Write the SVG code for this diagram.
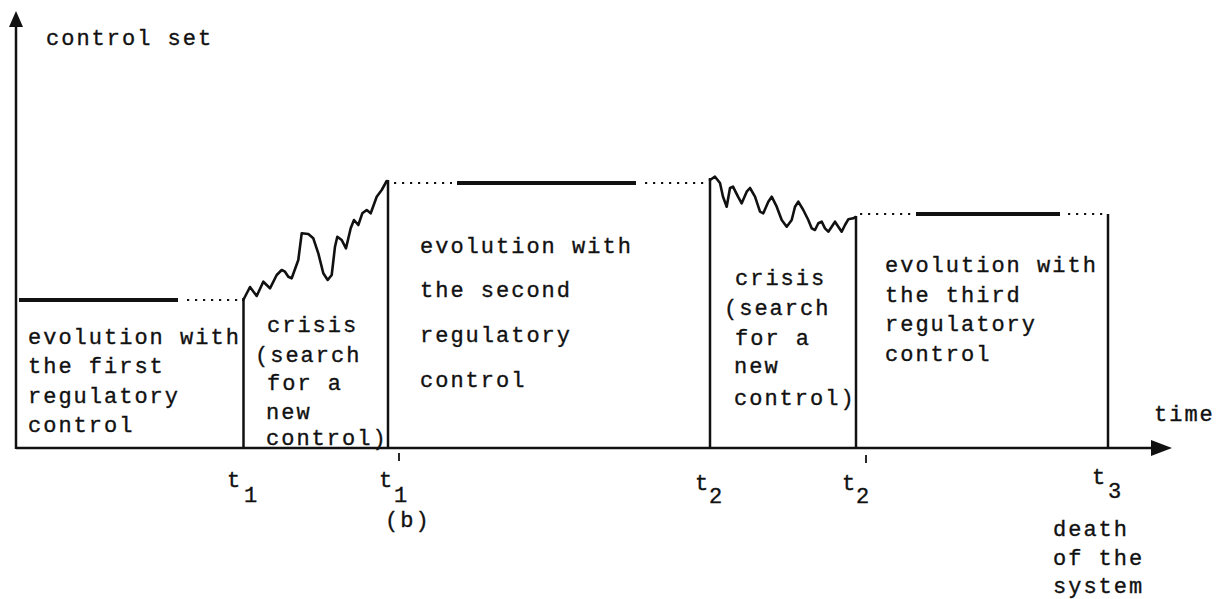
<svg xmlns="http://www.w3.org/2000/svg" width="1228" height="599" viewBox="0 0 1228 599">
<style>
text{font-family:"Liberation Mono","DejaVu Sans Mono",monospace;font-size:22px;letter-spacing:2px;fill:#111;stroke:#111;stroke-width:0.35}
.ax{stroke:#111;stroke-width:2.5;fill:none}
.v{stroke:#111;stroke-width:2.5;fill:none}
.lvl{stroke:#111;stroke-width:4;fill:none}
.dot{stroke:#111;stroke-width:2.2;fill:none;stroke-dasharray:2.2 5.8}
.w{stroke:#111;stroke-width:2.6;fill:none;stroke-linejoin:round;stroke-linecap:round}
.tick{stroke:#111;stroke-width:1.8}
</style>
<g id="axes">
<line class="ax" x1="16" y1="449" x2="16" y2="22"/>
<polygon points="16,11 9,27 23,27" fill="#111"/>
<line class="ax" x1="16" y1="448" x2="1155" y2="448"/>
<polygon points="1172,448 1151,440 1151,456" fill="#111"/>
<text x="46" y="45">control set</text>
<text x="1154" y="421">time</text>
</g>
<g id="connectors">
<line class="lvl" x1="19" y1="300" x2="178" y2="300"/>
<line class="dot" x1="187" y1="300" x2="240" y2="300"/>
<line class="v" x1="243.5" y1="298" x2="243.5" y2="448"/>
<polyline class="w" points="243.3,300 250,287 256.7,296 263.3,281.7 270,288.3 276.7,275 281.7,270 285,271.7 288.3,276.7 291.7,278.3 298.3,260 301.7,233.3 308.3,234 313.3,238.3 318.3,253.3 323.3,273.3 327.7,280 331.7,275 335,246.7 337.3,236.7 341.7,240 346,248.3 350.7,228.3 354,220 358.3,225 362.3,213.3 366.7,210 370.7,213.3 376.7,196.7 381.7,190 386.7,181"/>
<line class="v" x1="388" y1="180" x2="388" y2="448"/>
<line class="dot" x1="394" y1="183" x2="452" y2="183"/>
<line class="lvl" x1="457" y1="183" x2="636" y2="183"/>
<line class="dot" x1="645" y1="183" x2="705" y2="183"/>
<polyline class="w" points="710,180 715,176.7 720,183 723,196.7 726.7,206.7 730,188 733,186.7 738,196.7 741.7,203.3 746.7,191.7 750,188 755,196.7 760,211.7 763.3,213.3 768.3,201.7 771.7,196.7 776.7,206.7 781.7,220 786.7,226.7 791.7,220 795,206.7 798.3,201.7 803.3,210 808.3,220 811.7,228.3 815,230 818.3,223.3 821.7,221.7 825,228.3 828.3,231.7 831.7,226.7 835,221.7 838.3,226.7 841.7,231.7 845,225 848.3,219.3 853.3,218.3 855.7,217"/>
<line class="v" x1="710" y1="178" x2="710" y2="448"/>
<line class="v" x1="856" y1="216" x2="856" y2="448"/>
<line class="dot" x1="860" y1="214" x2="912" y2="214"/>
<line class="lvl" x1="916" y1="214" x2="1060" y2="214"/>
<line class="dot" x1="1068" y1="214" x2="1105" y2="214"/>
<line class="v" x1="1108" y1="214" x2="1108" y2="448"/>
</g>
<g id="phase1">
<text x="28" y="344">evolution with</text>
<text x="28" y="373">the first</text>
<text x="28" y="403">regulatory</text>
<text x="28" y="432">control</text>
</g>
<g id="crisis1">
<text x="267" y="332">crisis</text>
<text x="255" y="362">(search</text>
<text x="267" y="390">for a</text>
<text x="266" y="419">new</text>
<text x="266" y="445">control)</text>
</g>
<g id="phase2">
<text x="420" y="253">evolution with</text>
<text x="420" y="297">the second</text>
<text x="420" y="342">regulatory</text>
<text x="420" y="387">control</text>
</g>
<g id="crisis2">
<text x="735" y="285">crisis</text>
<text x="724" y="315">(search</text>
<text x="735" y="345">for a</text>
<text x="734" y="373">new</text>
<text x="734" y="405">control)</text>
</g>
<g id="phase3">
<text x="885" y="272">evolution with</text>
<text x="885" y="302">the third</text>
<text x="885" y="331">regulatory</text>
<text x="885" y="361">control</text>
</g>
<g id="ticks">
<text x="227" y="487">t</text><text x="244" y="502">1</text>
<text x="379" y="487">t</text><text x="394" y="502">1</text>
<line class="tick" x1="399" y1="453" x2="399" y2="461"/>
<text x="695" y="490">t</text><text x="709" y="503">2</text>
<text x="842" y="490">t</text><text x="856" y="503">2</text>
<line class="tick" x1="866" y1="455" x2="866" y2="463"/>
<text x="1092" y="484">t</text><text x="1108" y="498">3</text>
<text x="1053" y="536">death</text>
<text x="1053" y="565">of the</text>
<text x="1053" y="593">system</text>
<text x="385" y="527">(b)</text>
</g>
</svg>
